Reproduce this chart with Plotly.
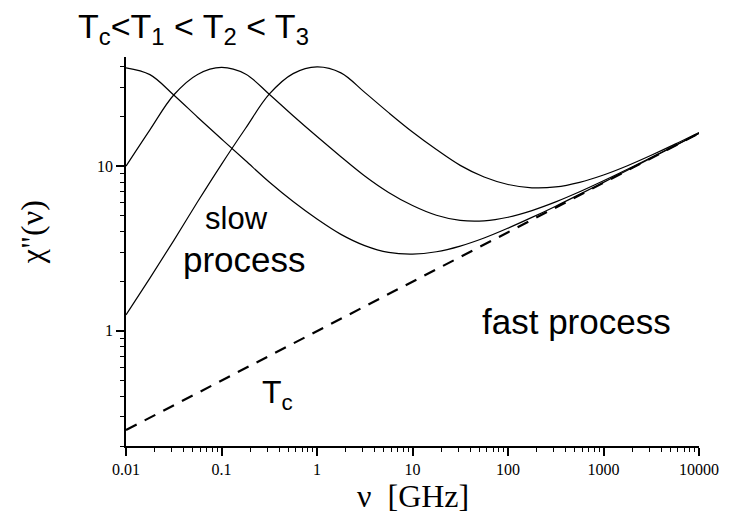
import numpy as np
import plotly.graph_objects as go

# frequency grid (GHz), quarter-decade steps
nu = [0.01, 0.0178, 0.0316, 0.0562, 0.1, 0.178, 0.316, 0.562, 1, 1.78, 3.16, 5.62,
      10, 17.8, 31.6, 56.2, 100, 178, 316, 562, 1000, 1780, 3160, 5620, 10000]

# chi''(nu)
chi_T1 = [39.5, 35.9, 27.0, 19.8, 14.6, 10.8, 8.0, 6.09, 4.77, 3.85, 3.29, 2.99,
          2.92, 3.02, 3.27, 3.66, 4.20, 4.88, 5.71, 6.73, 7.96, 9.43, 11.19, 13.28, 15.78]
chi_T2 = [10.0, 16.6, 27.0, 36.0, 39.7, 36.2, 27.3, 20.2, 15.1, 11.4, 8.71, 6.92,
          5.76, 5.03, 4.68, 4.65, 4.89, 5.37, 6.06, 6.98, 8.14, 9.56, 11.28, 13.34, 15.82]
chi_T3 = [1.25, 2.09, 3.53, 6.07, 10.25, 16.9, 27.3, 36.4, 40.0, 36.8, 28.0, 21.1,
          16.1, 12.6, 10.1, 8.58, 7.73, 7.38, 7.47, 7.97, 8.83, 10.05, 11.63, 13.59, 16.0]

# Tc (fast process only) straight line in log-log
nu_Tc = [0.01, 10000]
chi_Tc = [0.25, 15.8]

x_tickvals = [0.01, 0.1, 1, 10, 100, 1000, 10000]
x_ticktext = ["0.01", "0.1", "1", "10", "100", "1000", "10000"]
y_tickvals = [1, 10]
y_ticktext = ["1", "10"]

x_minor = [m * 10.0 ** d for d in range(-2, 4) for m in range(2, 10)]
y_minor = [m * 10.0 ** d for d in range(-1, 2) for m in range(2, 10) if m * 10.0 ** d < 46]

fig = go.Figure()
for ys in (chi_T1, chi_T2, chi_T3):
    fig.add_trace(go.Scatter(x=nu, y=ys, mode="lines",
                             line=dict(color="black", width=1.2, shape="spline", smoothing=1.0),
                             showlegend=False, hoverinfo="skip"))
fig.add_trace(go.Scatter(x=nu_Tc, y=chi_Tc, mode="lines",
                         line=dict(color="black", width=2.2, dash="12px,9px"),
                         showlegend=False, hoverinfo="skip"))

W, H = 731, 520
L, R, T, B = 126, 25, 57, 74
pw, ph = W - L - R, H - T - B

def px(xp):
    return (xp - L) / pw

def py(yp):
    return (H - B - yp) / ph

axis_common = dict(showline=True, linecolor="black", linewidth=1.5, mirror=False,
                   ticks="outside", ticklen=8, tickwidth=1.5, tickcolor="black",
                   showgrid=False, zeroline=False,
                   tickfont=dict(family="Liberation Serif", size=16, color="black"))

fig.update_xaxes(type="log", range=[-2, 4], tickvals=x_tickvals, ticktext=x_ticktext,
                 minor=dict(ticks="outside", ticklen=4, tickwidth=1.2, tickcolor="black",
                            tickvals=x_minor, showgrid=False),
                 **axis_common)
fig.update_yaxes(type="log", range=[np.log10(0.2), 1.662], tickvals=y_tickvals, ticktext=y_ticktext,
                 minor=dict(ticks="outside", ticklen=4, tickwidth=1.2, tickcolor="black",
                            tickvals=y_minor, showgrid=False),
                 **axis_common)

sans = "Liberation Sans"
serif = "Liberation Serif"
ann = [
    dict(text="T<sub>c</sub>&lt;T<sub>1</sub> &lt; T<sub>2</sub> &lt; T<sub>3</sub>",
         x=px(75), y=py(29), xanchor="left", yanchor="middle", font=dict(family=sans, size=34)),
    dict(text="slow", x=px(238), y=py(218), xanchor="center", yanchor="middle",
         font=dict(family=sans, size=31)),
    dict(text="process", x=px(246), y=py(259), xanchor="center", yanchor="middle",
         font=dict(family=sans, size=35)),
    dict(text="fast process", x=px(582), y=py(321), xanchor="center", yanchor="middle",
         font=dict(family=sans, size=35)),
    dict(text="T<sub>c</sub>", x=px(262), y=py(394), xanchor="left", yanchor="middle",
         font=dict(family=sans, size=32)),
    dict(text="ν  [GHz]", x=px(416), y=py(496), xanchor="center", yanchor="middle",
         font=dict(family=serif, size=32)),
    dict(text="χ\"(ν)", x=px(31), y=py(232), xanchor="center", yanchor="middle",
         textangle=-90, font=dict(family=serif, size=32)),
]
for a in ann:
    a.update(xref="paper", yref="paper", showarrow=False)
    a["font"]["color"] = "black"

fig.update_layout(width=W, height=H, margin=dict(l=L, r=R, t=T, b=B, pad=0),
                  paper_bgcolor="white", plot_bgcolor="white", annotations=ann)

fig.write_html("out.html")
